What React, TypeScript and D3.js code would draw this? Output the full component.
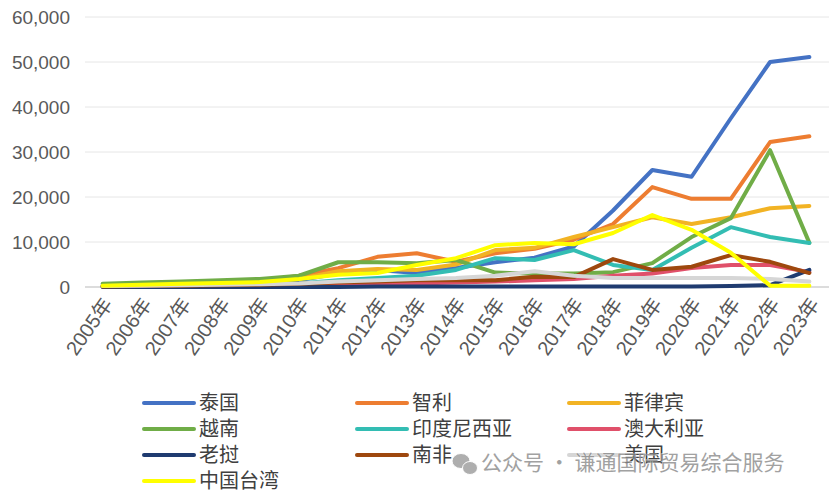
import React from "react";
import * as d3 from "d3";

const years = ["2005年","2006年","2007年","2008年","2009年","2010年","2011年","2012年","2013年","2014年","2015年","2016年","2017年","2018年","2019年","2020年","2021年","2022年","2023年"];

const thailand = [300, 500, 700, 900, 1100, 1500, 3000, 3800, 3100, 4200, 5500, 6500, 9000, 17000, 26000, 24500, 37500, 50000, 51100];
const chile = [200, 400, 700, 1000, 1300, 2500, 4200, 6700, 7500, 5600, 7500, 8500, 10500, 14000, 22200, 19600, 19600, 32200, 33500];
const philippines = [300, 500, 700, 900, 1200, 1800, 3500, 4000, 3800, 5000, 8200, 8700, 11100, 13300, 15500, 14000, 15500, 17500, 18000];
const vietnam = [700, 1000, 1200, 1500, 1800, 2500, 5500, 5500, 5300, 6000, 3200, 3000, 3000, 3300, 5300, 11100, 15300, 30400, 9800];
const indonesia = [100, 200, 300, 400, 500, 800, 1500, 2000, 2500, 3800, 6400, 6000, 8200, 4900, 3800, 8700, 13300, 11100, 9800];
const australia = [100, 100, 200, 200, 300, 300, 500, 700, 800, 1000, 1200, 1500, 1800, 2500, 3000, 4200, 4900, 4900, 3300];
const laos = [0, 0, 0, 0, 0, 0, 0, 100, 100, 100, 100, 100, 100, 100, 100, 100, 200, 400, 3800];
const southAfrica = [100, 200, 300, 400, 500, 700, 1000, 1200, 1500, 1500, 1500, 2300, 2200, 6200, 3800, 4500, 7100, 5600, 3100];
const usa = [200, 300, 400, 500, 600, 800, 1200, 1500, 1800, 2000, 2500, 3500, 2500, 2000, 2000, 2000, 2000, 1800, 1200];
const taiwan = [300, 500, 700, 900, 1100, 1800, 2700, 3100, 4900, 6400, 9300, 9800, 9500, 12000, 16000, 12700, 7600, 300, 300];

const seriesNames = ["泰国", "智利", "菲律宾", "越南", "印度尼西亚", "澳大利亚", "老挝", "南非", "美国", "中国台湾"];
const seriesValues = [thailand, chile, philippines, vietnam, indonesia, australia, laos, southAfrica, usa, taiwan];
const seriesColors = ["#4472C4", "#ED7D31", "#F2B324", "#70AD47", "#33BDB3", "#E0506A", "#1F3B70", "#9E480E", "#D6D6D6", "#FFFF00"];

const yTicks = [0, 10000, 20000, 30000, 40000, 50000, 60000];

export default function App() {
  const W = 840, H = 496;
  const x = d3.scaleBand<string>().domain(years).range([83, 829]);
  const cx = (yr: string) => (x(yr) as number) + x.bandwidth() / 2;
  const y = d3.scaleLinear().domain([0, 60000]).range([287, 17]);
  const fmt = d3.format(",");
  const line = d3.line<number>().x((_, i) => cx(years[i])).y((v) => y(v));

  const legendCols = [144, 357, 569];
  const legendRows = [403, 429, 455, 481];

  return (
    <svg width={W} height={H} style={{ position: "absolute", left: 0, top: 0, background: "#fff" }}
      fontFamily="'Liberation Sans', 'Noto Sans CJK SC', sans-serif">
      <rect x={0} y={0} width={W} height={H} fill="#fff" />
      {yTicks.map((t) => (
        <g key={t}>
          {t > 0 && <line x1={85} x2={829} y1={y(t)} y2={y(t)} stroke="#E6E6E6" strokeWidth={1} />}
          <text x={70} y={y(t)} dy="0.35em" textAnchor="end" fontSize={19} fill="#595959">{fmt(t)}</text>
        </g>
      ))}
      <line x1={85} x2={829} y1={y(0)} y2={y(0)} stroke="#D0D0D0" strokeWidth={1.5} />
      {years.map((yr) => (
        <text key={yr} transform={`translate(${cx(yr) + 5},${300}) rotate(-55)`} textAnchor="end"
          dy="0.35em" fontSize={20} fill="#595959">{yr}</text>
      ))}
      {seriesValues.map((vals, i) => (
        <path key={seriesNames[i]} d={line(vals) as string} fill="none" stroke={seriesColors[i]}
          strokeWidth={4} strokeLinejoin="round" strokeLinecap="round" />
      ))}
      {seriesNames.map((name, i) => {
        const col = i % 3, row = Math.floor(i / 3);
        const lx = legendCols[col], ly = legendRows[row];
        return (
          <g key={name}>
            <line x1={lx} x2={lx + 50} y1={ly} y2={ly} stroke={seriesColors[i]} strokeWidth={4} strokeLinecap="round" />
            <text x={lx + 55} y={ly} dy="0.35em" fontSize={20} fill="#404040"
              fontFamily="'Noto Sans CJK SC', sans-serif">{name}</text>
          </g>
        );
      })}
      <g opacity={0.8}>
        <ellipse cx={461} cy={461} rx={9} ry={7.5} fill="#9a9a9a" stroke="#fff" strokeWidth={1} />
        <ellipse cx={470} cy={468} rx={7.5} ry={6.5} fill="#9a9a9a" stroke="#fff" strokeWidth={1} />
        <text x={481} y={463} dy="0.35em" fontSize={21} fill="#8a8a8a" stroke="#fff" strokeWidth={0.6}
          paintOrder="stroke" fontFamily="'Noto Sans CJK SC', sans-serif">公众号 · 谦通国际贸易综合服务</text>
      </g>
    </svg>
  );
}
